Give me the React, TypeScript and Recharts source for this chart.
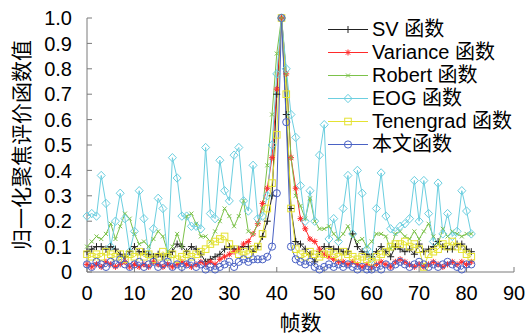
import React from 'react';
import { LineChart, Line, XAxis, YAxis, Legend, Label } from 'recharts';

const FONT = '"Liberation Sans", Arial, "Noto Sans CJK SC", sans-serif';

const seriesNames = ['SV 函数', 'Variance 函数', 'Robert 函数', 'EOG 函数', 'Tenengrad 函数', '本文函数'];

const svValues = [
  0.08, 0.09, 0.10, 0.10, 0.09, 0.10, 0.09, 0.07, 0.06, 0.08,
  0.10, 0.08, 0.08, 0.07, 0.06, 0.07, 0.06, 0.07, 0.08, 0.11,
  0.10, 0.08, 0.10, 0.09, 0.07, 0.04, 0.05, 0.06, 0.07, 0.09,
  0.10, 0.09, 0.09, 0.10, 0.10, 0.08, 0.10, 0.14, 0.20, 0.30,
  0.70, 1.00, 0.62, 0.25, 0.12, 0.11, 0.09, 0.07, 0.04, 0.08,
  0.10, 0.10, 0.09, 0.09, 0.08, 0.08, 0.15, 0.10, 0.08, 0.07,
  0.06, 0.08, 0.10, 0.08, 0.06, 0.10, 0.09, 0.08, 0.09, 0.07,
  0.11, 0.08, 0.09, 0.10, 0.12, 0.10, 0.09, 0.09, 0.11, 0.11,
  0.09, 0.08,
];

const varianceValues = [
  0.03, 0.02, 0.03, 0.02, 0.04, 0.03, 0.02, 0.03, 0.04, 0.02,
  0.03, 0.02, 0.03, 0.02, 0.04, 0.03, 0.02, 0.03, 0.02, 0.03,
  0.04, 0.03, 0.02, 0.03, 0.04, 0.03, 0.04, 0.03, 0.05, 0.06,
  0.07, 0.08, 0.09, 0.11, 0.12, 0.15, 0.19, 0.27, 0.33, 0.45,
  0.72, 1.00, 0.78, 0.45, 0.33, 0.21, 0.17, 0.13, 0.12, 0.09,
  0.07, 0.06, 0.05, 0.04, 0.04, 0.03, 0.04, 0.03, 0.02, 0.03,
  0.02, 0.03, 0.04, 0.03, 0.02, 0.04, 0.05, 0.04, 0.03, 0.02,
  0.03, 0.02, 0.03, 0.04, 0.03, 0.02, 0.03, 0.04, 0.03, 0.04,
  0.03, 0.04,
];

const robertValues = [
  0.10, 0.12, 0.14, 0.13, 0.15, 0.19, 0.13, 0.18, 0.23, 0.21,
  0.15, 0.11, 0.12, 0.10, 0.13, 0.16, 0.14, 0.08, 0.10, 0.15,
  0.10, 0.22, 0.23, 0.19, 0.14, 0.14, 0.12, 0.16, 0.20, 0.25,
  0.22, 0.18, 0.22, 0.28, 0.16, 0.15, 0.19, 0.25, 0.42, 0.62,
  0.86, 1.00, 0.78, 0.45, 0.30, 0.26, 0.21, 0.29, 0.20, 0.17,
  0.17, 0.18, 0.15, 0.13, 0.15, 0.18, 0.14, 0.12, 0.13, 0.10,
  0.12, 0.15, 0.15, 0.14, 0.09, 0.15, 0.16, 0.14, 0.13, 0.16,
  0.13, 0.16, 0.19, 0.14, 0.11, 0.17, 0.14, 0.16, 0.15, 0.14,
  0.15, 0.15,
];

const eogValues = [
  0.22, 0.23, 0.22, 0.38, 0.27, 0.10, 0.20, 0.31, 0.21, 0.08,
  0.16, 0.32, 0.21, 0.07, 0.17, 0.29, 0.25, 0.06, 0.45, 0.37,
  0.22, 0.22, 0.18, 0.18, 0.17, 0.49, 0.23, 0.21, 0.44, 0.32,
  0.28, 0.46, 0.49, 0.28, 0.24, 0.42, 0.21, 0.22, 0.30, 0.50,
  0.78, 1.00, 0.80, 0.62, 0.53, 0.34, 0.20, 0.32, 0.20, 0.46,
  0.58, 0.13, 0.21, 0.12, 0.25, 0.38, 0.15, 0.40, 0.31, 0.09,
  0.05, 0.25, 0.39, 0.22, 0.17, 0.16, 0.18, 0.19, 0.21, 0.36,
  0.20, 0.36, 0.23, 0.12, 0.35, 0.15, 0.23, 0.14, 0.16, 0.32,
  0.24, 0.15,
];

const tenengradValues = [
  0.07, 0.06, 0.07, 0.06, 0.08, 0.07, 0.06, 0.07, 0.05, 0.07,
  0.06, 0.08, 0.06, 0.07, 0.05, 0.06, 0.08, 0.06, 0.07, 0.05,
  0.06, 0.07, 0.06, 0.07, 0.08, 0.09, 0.11, 0.12, 0.13, 0.14,
  0.11, 0.09, 0.07, 0.08, 0.07, 0.09, 0.10, 0.15, 0.25, 0.35,
  0.54, 1.00, 0.70, 0.25, 0.09, 0.07, 0.06, 0.08, 0.07, 0.06,
  0.07, 0.08, 0.07, 0.06, 0.08, 0.07, 0.06, 0.05, 0.06, 0.05,
  0.04, 0.06, 0.07, 0.08, 0.10, 0.11, 0.11, 0.12, 0.10, 0.11,
  0.09, 0.02, 0.07, 0.08, 0.09, 0.11, 0.10, 0.12, 0.10, 0.09,
  0.07, 0.06,
];

const oursValues = [
  0.03, 0.02, 0.04, 0.03, 0.02, 0.04, 0.03, 0.05, 0.03, 0.02,
  0.03, 0.04, 0.02, 0.03, 0.04, 0.02, 0.03, 0.04, 0.02, 0.03,
  0.02, 0.03, 0.04, 0.02, 0.03, 0.01, 0.02, 0.01, 0.02, 0.03,
  0.04, 0.02, 0.04, 0.05, 0.04, 0.05, 0.05, 0.05, 0.06, 0.10,
  0.31, 1.00, 0.59, 0.10, 0.05, 0.04, 0.03, 0.04, 0.02, 0.01,
  0.02, 0.03, 0.02, 0.03, 0.02, 0.03, 0.02, 0.01, 0.02, 0.01,
  0.01, 0.02, 0.01, 0.03, 0.02, 0.03, 0.04, 0.03, 0.02, 0.03,
  0.04, 0.03, 0.02, 0.03, 0.02, 0.03, 0.04, 0.03, 0.02, 0.01,
  0.03, 0.03,
];

const xTicks = [0, 10, 20, 30, 40, 50, 60, 70, 80, 90];
const yTicks = [0, 0.1, 0.2, 0.3, 0.4, 0.5, 0.6, 0.7, 0.8, 0.9, 1.0];
const yTickLabels = ['0', '0.1', '0.2', '0.3', '0.4', '0.5', '0.6', '0.7', '0.8', '0.9', '1.0'];

const data = svValues.map((v, i) => ({
  frame: i,
  sv: v,
  variance: varianceValues[i],
  robert: robertValues[i],
  eog: eogValues[i],
  tenengrad: tenengradValues[i],
  ours: oursValues[i],
}));

type Shape = 'plus' | 'star' | 'cross' | 'diamond' | 'square' | 'circle';

const series: { key: string; name: string; color: string; shape: Shape }[] = [
  { key: 'sv', name: seriesNames[0], color: '#222222', shape: 'plus' },
  { key: 'variance', name: seriesNames[1], color: '#ff2a2a', shape: 'star' },
  { key: 'robert', name: seriesNames[2], color: '#7cc24a', shape: 'cross' },
  { key: 'eog', name: seriesNames[3], color: '#6ccfe0', shape: 'diamond' },
  { key: 'tenengrad', name: seriesNames[4], color: '#e4e232', shape: 'square' },
  { key: 'ours', name: seriesNames[5], color: '#4a62c4', shape: 'circle' },
];

function marker(shape: Shape, cx: number, cy: number, color: string, key?: string) {
  switch (shape) {
    case 'plus':
      return <path key={key} d={`M${cx - 3.5},${cy}h7M${cx},${cy - 3.5}v7`} stroke={color} strokeWidth={1} fill="none" />;
    case 'star':
      return (
        <path
          key={key}
          d={`M${cx - 3},${cy}h6M${cx},${cy - 3}v6M${cx - 2.2},${cy - 2.2}l4.4,4.4M${cx - 2.2},${cy + 2.2}l4.4,-4.4`}
          stroke={color}
          strokeWidth={1}
          fill="none"
        />
      );
    case 'cross':
      return <path key={key} d={`M${cx - 2},${cy - 2}l4,4M${cx - 2},${cy + 2}l4,-4`} stroke={color} strokeWidth={1} fill="none" />;
    case 'diamond':
      return <path key={key} d={`M${cx},${cy - 4.2}L${cx + 4},${cy}L${cx},${cy + 4.2}L${cx - 4},${cy}Z`} stroke={color} strokeWidth={1} fill="none" />;
    case 'square':
      return <rect key={key} x={cx - 3.3} y={cy - 3.3} width={6.6} height={6.6} stroke={color} strokeWidth={1} fill="none" />;
    default:
      return <circle key={key} cx={cx} cy={cy} r={3.6} stroke={color} strokeWidth={1} fill="none" />;
  }
}

const makeDot = (shape: Shape, color: string) => (p: any) => {
  const k = `${shape}-${p.index}`;
  if (p.cx == null || p.cy == null) return <g key={k} />;
  return marker(shape, p.cx, p.cy, color, k);
};

const renderLegend = () => (
  <div style={{ fontSize: 20, color: '#000', fontFamily: FONT }}>
    {series.map((s) => (
      <div key={s.key} style={{ display: 'flex', alignItems: 'center', height: 23, whiteSpace: 'nowrap' }}>
        <svg width={42} height={23} style={{ display: 'block' }}>
          <line x1={1} x2={41} y1={11.5} y2={11.5} stroke={s.color} strokeWidth={1} />
          {marker(s.shape, 21, 11.5, s.color)}
        </svg>
        <span style={{ marginLeft: 3, lineHeight: '23px', fontFamily: FONT }}>{s.name}</span>
      </div>
    ))}
  </div>
);

const axisColor = '#7a7a7a';
const tickStyle = { fill: '#000', fontSize: 20, fontFamily: FONT };

export default function App() {
  return (
    <div style={{ position: 'absolute', left: 0, top: 0, width: 530, height: 335, background: '#fff', fontFamily: FONT }}>
      <LineChart width={530} height={335} data={data} margin={{ top: 18, right: 16, bottom: 0, left: 0 }}>
        <XAxis
          xAxisId={0}
          dataKey="frame"
          type="number"
          domain={[0, 90]}
          ticks={xTicks}
          interval={0}
          height={63}
          stroke={axisColor}
          tickSize={-5}
          tickMargin={19}
          tick={tickStyle}
        >
          <Label value="帧数" position="insideBottom" offset={5} style={{ fontSize: 21, fontFamily: FONT, fill: '#000', textAnchor: 'middle' }} />
        </XAxis>
        <XAxis
          xAxisId="top"
          orientation="top"
          dataKey="frame"
          type="number"
          domain={[0, 90]}
          ticks={xTicks}
          height={0}
          stroke={axisColor}
          tickSize={-5}
          tick={false}
        />
        <YAxis
          yAxisId={0}
          type="number"
          domain={[0, 1]}
          ticks={yTicks}
          interval={0}
          width={87}
          stroke={axisColor}
          tickSize={-5}
          tickMargin={20}
          tick={tickStyle}
          tickFormatter={(v: number) => yTickLabels[yTicks.findIndex((t) => Math.abs(t - v) < 1e-6)] ?? String(v)}
        >
          <Label
            value="归一化聚焦评价函数值"
            angle={-90}
            position="insideLeft"
            offset={22}
            style={{ fontSize: 21, fontFamily: FONT, fill: '#000', textAnchor: 'middle' }}
          />
        </YAxis>
        <YAxis
          yAxisId="right"
          orientation="right"
          type="number"
          domain={[0, 1]}
          ticks={yTicks}
          width={0}
          stroke={axisColor}
          tickSize={-5}
          tick={false}
        />
        <Legend
          layout="vertical"
          align="center"
          verticalAlign="middle"
          content={renderLegend}
          wrapperStyle={{ left: 327, top: 18, width: 200, height: 140 }}
        />
        {series.map((s) => (
          <Line
            key={s.key}
            xAxisId={0}
            yAxisId={0}
            type="linear"
            dataKey={s.key}
            name={s.name}
            stroke={s.color}
            strokeWidth={1}
            dot={makeDot(s.shape, s.color)}
            activeDot={false}
            isAnimationActive={false}
          />
        ))}
      </LineChart>
    </div>
  );
}
